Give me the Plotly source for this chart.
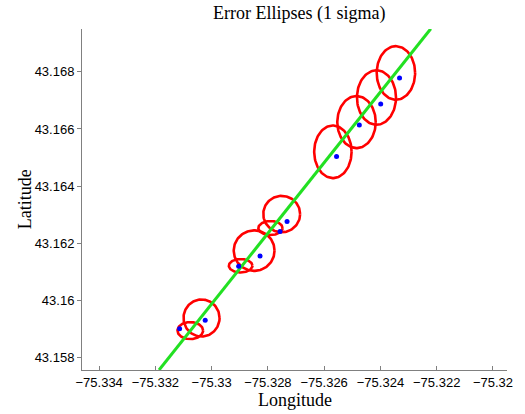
import numpy as np
import plotly.graph_objects as go

# Estimated positions (blue dots)
est_lon = [-75.33114, -75.33023, -75.32904, -75.32828, -75.32757, -75.32732,
           -75.32556, -75.32475, -75.32399, -75.32332]
est_lat = [43.15900, 43.15930, 43.16119, 43.16155, 43.16241, 43.16276,
           43.16504, 43.16614, 43.16687, 43.16778]

# Error ellipses (1 sigma): centers and semi-axes (degrees)
ell_lon = [-75.33076, -75.33036, -75.32897, -75.32849, -75.32791, -75.32751,
           -75.32569, -75.32485, -75.32414, -75.32345]
ell_lat = [43.15894, 43.15938, 43.16121, 43.16174, 43.16253, 43.16302,
           43.16520, 43.16624, 43.16710, 43.16796]
ell_sx = [0.000455, 0.000641, 0.000420, 0.000725, 0.000431, 0.000655,
          0.000665, 0.000683, 0.000694, 0.000683]
ell_sy = [0.000298, 0.000648, 0.000235, 0.000708, 0.000245, 0.000637,
          0.000921, 0.000911, 0.000953, 0.000939]

# Track line endpoints
track_lon = [-75.33187, -75.32221]
track_lat = [43.15756, 43.16951]

x_ticks = [-75.334, -75.332, -75.33, -75.328, -75.326, -75.324, -75.322, -75.32]
x_tick_text = ["\u221275.334", "\u221275.332", "\u221275.33", "\u221275.328",
               "\u221275.326", "\u221275.324", "\u221275.322", "\u221275.32"]
y_ticks = [43.158, 43.16, 43.162, 43.164, 43.166, 43.168]
y_tick_text = ["43.158", "43.16", "43.162", "43.164", "43.166", "43.168"]

fig = go.Figure()

t = np.linspace(0, 2 * np.pi, 120)
for cx, cy, sx, sy in zip(ell_lon, ell_lat, ell_sx, ell_sy):
    fig.add_trace(go.Scatter(
        x=cx + sx * np.cos(t), y=cy + sy * np.sin(t), mode="lines",
        line=dict(color="#ff0000", width=2.6), hoverinfo="skip", showlegend=False))

fig.add_trace(go.Scatter(
    x=track_lon, y=track_lat, mode="lines",
    line=dict(color="#22e022", width=3), showlegend=False))

fig.add_trace(go.Scatter(
    x=est_lon, y=est_lat, mode="markers",
    marker=dict(color="#0000ff", size=5), showlegend=False))

tickfont = dict(family="Liberation Sans, Arial, sans-serif", size=13, color="black")
titlefont = dict(family="Liberation Serif, Times New Roman, serif", size=18, color="black")

fig.update_layout(
    width=525, height=414,
    margin=dict(l=82, r=12, t=29, b=44),
    paper_bgcolor="white", plot_bgcolor="white",
    title=dict(text="Error Ellipses (1 sigma)", font=titlefont,
               x=0.57, xanchor="center", y=1 - 13 / 414, yanchor="middle", yref="container"),
    xaxis=dict(range=[-75.33461, -75.3195], tickvals=x_ticks, ticktext=x_tick_text,
               showgrid=False, zeroline=False, showline=True, linecolor="#808080",
               linewidth=1, ticks="inside", ticklen=4, tickcolor="#808080",
               tickfont=tickfont),
    yaxis=dict(range=[43.15756, 43.1695], tickvals=y_ticks, ticktext=y_tick_text,
               showgrid=False, zeroline=False, showline=True, linecolor="#808080",
               linewidth=1, ticks="outside", ticklen=4, tickcolor="#808080",
               tickfont=tickfont),
    annotations=[
        dict(text="Longitude", xref="paper", yref="paper", x=0.5, y=-(400 - 370) / 341,
             xanchor="center", yanchor="middle", showarrow=False, font=titlefont),
        dict(text="Latitude", xref="paper", yref="paper", x=-(82 - 24) / 431, y=0.5,
             xanchor="center", yanchor="middle", showarrow=False, font=titlefont,
             textangle=-90),
    ],
)

fig.write_html("out.html", config={"displayModeBar": False},
               post_script="document.body.style.margin='0';")
